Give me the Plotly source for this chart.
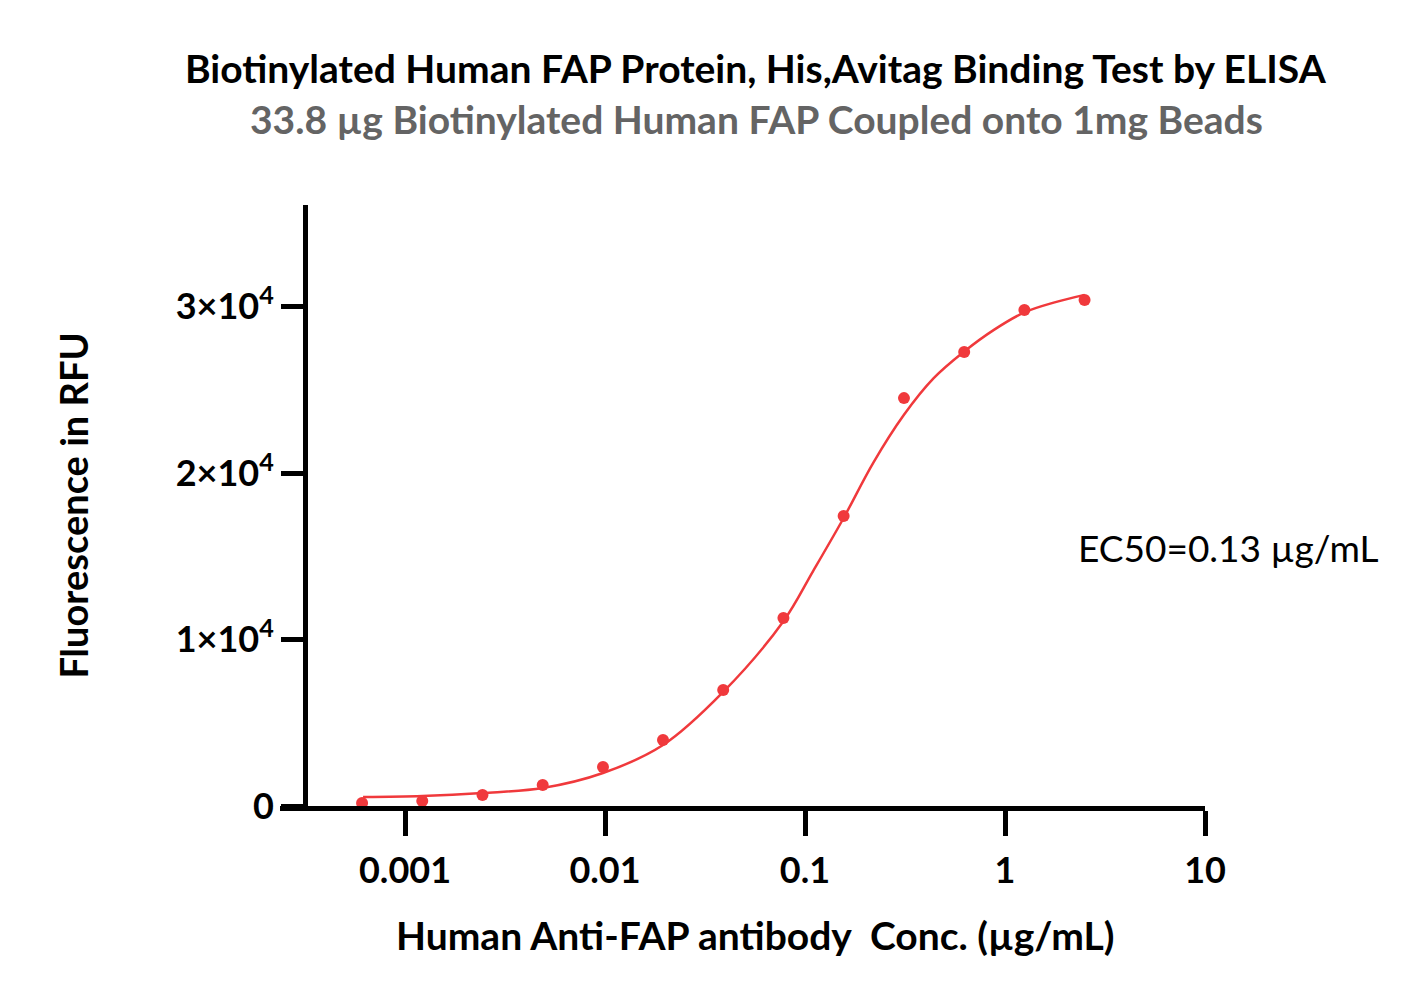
import plotly.graph_objects as go

# Measured data (serial 2-fold dilution)
conc = [0.00061, 0.00122, 0.00244, 0.00488, 0.00977, 0.0195, 0.039, 0.078,
        0.156, 0.3125, 0.625, 1.25, 2.5]
rfu = [180, 300, 660, 1260, 2340, 3960, 6970, 11290, 17420, 24500, 27270, 29790, 30390]

# Fitted curve
fit_conc = [0.000617, 0.00122, 0.00244, 0.00488, 0.00977, 0.0195, 0.039, 0.078,
            0.1096, 0.156, 0.219, 0.3125, 0.44, 0.625, 0.88, 1.25, 1.77, 2.5]
fit_rfu = [540, 600, 780, 1080, 1980, 3660, 6850, 11100,
           14100, 17300, 20600, 23500, 25700, 27300, 28600, 29650, 30250, 30700]

x_tickvals = [0.001, 0.01, 0.1, 1, 10]
x_ticktext = ["0.001", "0.01", "0.1", "1", "10"]
y_tickvals = [0, 10000, 20000, 30000]
y_ticktext = ["0", "1×10<sup>4</sup>", "2×10<sup>4</sup>", "3×10<sup>4</sup>"]

RED = "#f0393c"
FONT = "Lato"

fig = go.Figure()
fig.add_trace(go.Scatter(x=fit_conc, y=fit_rfu, mode="lines",
                         line=dict(color=RED, width=2.5, shape="spline", smoothing=1.0),
                         hoverinfo="skip", showlegend=False))
fig.add_trace(go.Scatter(x=conc, y=rfu, mode="markers",
                         marker=dict(color=RED, size=12), showlegend=False))

fig.update_layout(
    width=1418, height=1002,
    margin=dict(l=272, r=221, t=197, b=204),
    paper_bgcolor="white", plot_bgcolor="white",
    font=dict(family=FONT, color="black"),
    xaxis=dict(type="log", range=[-3.625, 1.0],
               tickvals=x_tickvals, ticktext=x_ticktext,
               showgrid=False, zeroline=False,
               showline=True, linecolor="black", linewidth=5,
               ticks="outside", ticklen=25, tickwidth=5, tickcolor="black",
               ticklabelstandoff=4,
               tickfont=dict(family=FONT, size=36, color="black", weight="bold")),
    yaxis=dict(range=[0, 36100], anchor="free", position=25/925,
               tickvals=y_tickvals, ticktext=y_ticktext,
               showgrid=False, zeroline=False,
               showline=True, linecolor="black", linewidth=5,
               ticks="outside", ticklen=22, tickwidth=5, tickcolor="black",
               tickfont=dict(family=FONT, size=36, color="black", weight="bold"),
               title=dict(text="Fluorescence in RFU",
                          font=dict(family=FONT, size=38, color="black", weight="bold"),
                          standoff=74)),
    annotations=[
        dict(text="<b>Biotinylated Human FAP Protein, His,Avitag Binding Test by ELISA</b>",
             xref="paper", yref="paper", x=(756 - 280) / 925, y=1 + (205 - 68) / 601,
             xanchor="center", yanchor="middle", showarrow=False,
             font=dict(family=FONT, size=39, color="black")),
        dict(text="<b>33.8 µg Biotinylated Human FAP Coupled onto 1mg Beads</b>",
             xref="paper", yref="paper", x=(756 - 280) / 925, y=1 + (205 - 119) / 601,
             xanchor="center", yanchor="middle", showarrow=False,
             font=dict(family=FONT, size=39, color="#646464")),
        dict(text="<b>Human Anti-FAP antibody  Conc. (µg/mL)</b>",
             xref="paper", yref="paper", x=(755 - 280) / 925, y=-(935 - 806) / 601,
             xanchor="center", yanchor="middle", showarrow=False,
             font=dict(family=FONT, size=39, color="black")),
        dict(text="EC50=0.13 µg/mL",
             xref="paper", yref="paper", x=(1076 - 280) / 925, y=(806 - 547) / 601,
             xanchor="left", yanchor="middle", showarrow=False,
             font=dict(family=FONT, size=37, color="black")),
    ],
)

fig.write_html("out.html")
